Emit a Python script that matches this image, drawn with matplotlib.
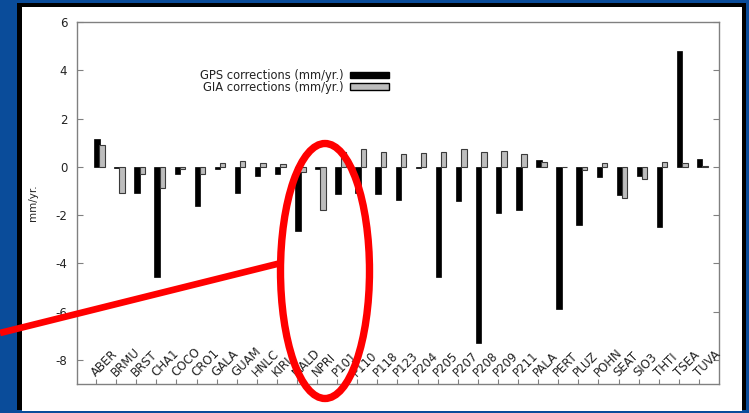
import numpy as np
import matplotlib
matplotlib.use("Agg")
import matplotlib.pyplot as plt
from matplotlib.patches import Rectangle, Ellipse, Patch
from matplotlib.transforms import blended_transform_factory

plt.rcParams['font.family'] = ['DejaVu Sans']
plt.rcParams['axes.unicode_minus'] = False

# stations and corrections (mm/yr.)
stations = ['ABER', 'BRMU', 'BRST', 'CHA1', 'COCO', 'CRO1', 'GALA', 'GUAM',
            'HNLC', 'KIRI', 'MALD', 'NPRI', 'P101', 'P110', 'P118', 'P123',
            'P204', 'P205', 'P207', 'P208', 'P209', 'P211', 'PALA', 'PERT',
            'PLUZ', 'POHN', 'SEAT', 'SIO3', 'THTI', 'TSEA', 'TUVA']
gps = [1.15, -0.04, -1.08, -4.56, -0.31, -1.62, -0.10, -1.08,
       -0.39, -0.31, -2.65, -0.08, -1.13, -1.10, -1.13, -1.36,
       -0.03, -4.56, -1.42, -7.31, -1.92, -1.77, 0.30, -5.90,
       -2.42, -0.44, -1.18, -0.37, -2.50, 4.80, 0.32]
gia = [0.92, -1.08, -0.28, -0.87, -0.11, -0.28, 0.17, 0.24,
       0.17, 0.13, -0.20, -1.77, 0.62, 0.72, 0.62, 0.55,
       0.59, 0.62, 0.72, 0.62, 0.66, 0.55, 0.18, -0.02,
       -0.14, 0.14, -1.31, -0.51, 0.21, 0.17, 0.05]

W, H = 749, 413
blue = '#0a4c9a'
txt = '#222222'
grey = '#808080'

fig = plt.figure(figsize=(W / 100, H / 100), dpi=100, facecolor=blue)

def fr(x0, y0, x1, y1):
    # pixel box (top-left origin) -> figure fraction rect
    return (x0 / W, 1 - y1 / H), (x1 - x0) / W, (y1 - y0) / H

xy, w, h = fr(17, 3, 746, 410)
fig.patches.append(Rectangle(xy, w, h, transform=fig.transFigure, facecolor='black', zorder=-3))
xy, w, h = fr(22, 7, 742, 410.5)
fig.patches.append(Rectangle(xy, w, h, transform=fig.transFigure, facecolor='white', zorder=-2))

ax = fig.add_axes([77 / W, 1 - 384 / H, (719 - 77) / W, (384 - 22) / H])
ax.set_facecolor('white')

x = np.arange(len(stations))
bw = 0.27
ax.bar(x + 0.04, gps, bw, color='black', edgecolor='black', linewidth=0.5, zorder=2)
ax.bar(x + 0.30, gia, bw, color='#bdbdbd', edgecolor='#3a3a3a', linewidth=0.8, zorder=2)

ax.set_xlim(-0.95, len(stations))
ax.set_ylim(-9, 6)
ax.set_yticks(np.arange(-8, 7, 2))
ax.set_xticks(x)
ax.set_xticklabels([])
for s in ax.spines.values():
    s.set_color(grey)
    s.set_linewidth(1.0)
ax.tick_params(axis='y', direction='in', length=4, color=grey, right=True,
               labelsize=8.5, labelcolor=txt, pad=7)
ax.tick_params(axis='x', direction='in', length=3.5, color=grey)

# station names sit inside the box, rotated up from each tick
tr = blended_transform_factory(ax.transData, ax.transAxes)
for i, name in enumerate(stations):
    ax.text(x[i], 0.02, name, transform=tr, rotation=45, rotation_mode='anchor',
            ha='left', va='baseline', fontsize=8.5, color=txt)

ax.set_ylabel('mm/yr.', fontsize=7.5, color=txt)
ax.yaxis.set_label_coords((38 - 77) / (719 - 77), 0.5)

handles = [Patch(facecolor='black', edgecolor='black'),
           Patch(facecolor='#bdbdbd', edgecolor='black')]
ax.legend(handles, ['GPS corrections (mm/yr.)', 'GIA corrections (mm/yr.)'],
          loc='upper right', bbox_to_anchor=((389 - 77) / (719 - 77), 1 - (69 - 22) / (384 - 22)),
          markerfirst=False, frameon=False, fontsize=8.3, handlelength=3.4,
          handleheight=0.45, handletextpad=0.5, labelspacing=-0.12,
          borderpad=0, borderaxespad=0, labelcolor=txt)

# red slide annotation on top
ov = fig.add_axes([0, 0, 1, 1], zorder=5)
ov.set_xlim(0, W)
ov.set_ylim(H, 0)
ov.axis('off')
ov.patch.set_alpha(0)
ov.add_patch(Ellipse((325, 271), 89, 255, fill=False, edgecolor='#ff0000', linewidth=5.3))
ov.plot([0, 279], [333, 263.5], color='#ff0000', linewidth=4.8, solid_capstyle='butt')

fig.savefig('out.png', dpi=100, facecolor=blue)
